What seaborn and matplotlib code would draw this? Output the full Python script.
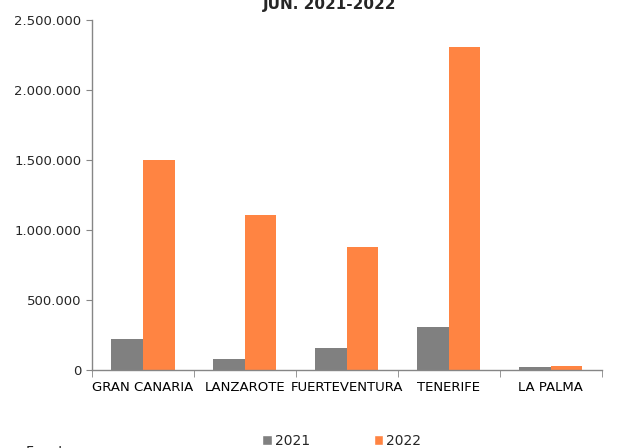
import pandas as pd
import matplotlib.pyplot as plt
import matplotlib.ticker as mticker
from matplotlib.patches import Patch
import seaborn as sns

islas = ["GRAN CANARIA", "LANZAROTE", "FUERTEVENTURA", "TENERIFE", "LA PALMA"]
valores_2021 = [221000, 79000, 155000, 309000, 19000]
valores_2022 = [1500000, 1107000, 879000, 2307000, 28000]
years = ["2021", "2022"]
colores = ["#808080", "#FF8442"]

df = pd.DataFrame({
    "isla": islas * 2,
    "year": [years[0]] * len(islas) + [years[1]] * len(islas),
    "valor": valores_2021 + valores_2022,
})

sns.set_style("white")
plt.rcParams['font.family'] = ['DejaVu Sans']

fig = plt.figure(figsize=(6.21, 4.48), dpi=100)
ax = fig.add_axes([0.148, 0.174, 0.821, 0.781])

sns.barplot(data=df, x="isla", y="valor", hue="year", palette=colores,
            width=0.62, saturation=1, linewidth=0, ax=ax, legend=False)

ax.set_ylim(0, 2500000)
ax.set_xlim(-0.5, 4.5)
ax.yaxis.set_major_locator(mticker.MultipleLocator(500000))
ax.yaxis.set_major_formatter(mticker.FuncFormatter(lambda v, p: f"{int(v):,}".replace(",", ".")))
ax.set_xlabel("")
ax.set_ylabel("")

for s in ["top", "right"]:
    ax.spines[s].set_visible(False)
for s in ["left", "bottom"]:
    ax.spines[s].set_color("#868686")
    ax.spines[s].set_linewidth(1)

ax.tick_params(axis="x", which="major", length=0, pad=8, labelsize=9.5, colors="black")
ax.set_xticks([i + 0.5 for i in range(-1, 5)], minor=True)
ax.tick_params(axis="x", which="minor", length=5, color="#868686", direction="out")
ax.tick_params(axis="y", length=4, color="#868686", direction="out", labelsize=9.5)
ax.tick_params(left=True, bottom=False)
ax.tick_params(axis="x", which="minor", bottom=True)

fig.text(0.53, 0.99, "JUN. 2021-2022", ha="center", va="center",
         fontsize=11, fontweight="bold")

handles = [Patch(facecolor=c, label=y) for c, y in zip(colores, years)]
fig.legend(handles=handles, loc="center", bbox_to_anchor=(0.55, 0.016), ncol=2,
           frameon=False, fontsize=10, handlelength=0.7, handleheight=0.7,
           handletextpad=0.2, columnspacing=4.6)

fig.text(0.042, -0.01, "Fuente:", ha="left", va="center", fontsize=10)

fig.savefig("out.png", dpi=100)
